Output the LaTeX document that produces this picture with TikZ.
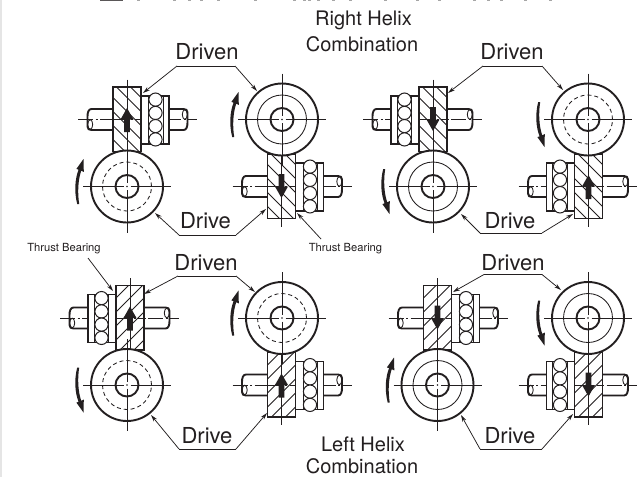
\documentclass[tikz,border=0pt]{standalone}
\usepackage{fontspec}
\setmainfont{TeX Gyre Heros}
\usetikzlibrary{arrows.meta}
\definecolor{ink}{HTML}{231F20}
\tikzset{
  heavy/.style={draw=ink,line width=1.9pt,line join=miter},
  lightline/.style={draw=ink,line width=0.85pt},
  centre/.style={draw=ink,line width=0.75pt},
  chain/.style={draw=ink,line width=0.75pt,dash pattern=on 15pt off 2.5pt on 2pt off 2.5pt},
  leaderline/.style={draw=ink,line width=0.75pt,-{Stealth[length=7pt,width=4pt]}},
  biglabel/.style={inner sep=0pt,text=ink,font=\fontsize{22}{24}\selectfont},
  midlabel/.style={inner sep=0pt,text=ink,font=\fontsize{20}{23}\selectfont},
  smalllabel/.style={inner sep=0pt,text=ink,font=\fontsize{11.2}{13}\selectfont},
}
% shaft end: local origin on the end, s = x direction, t = y direction
\newcommand{\shaftend}[5]{% x end, y centre, xscale, yscale, length
  \begin{scope}[shift={(#1,#2)},xscale=#3,yscale=#4]
    \draw[heavy,line join=round] (#5,-10.5) -- (4,-10.5) .. controls (1,-10.5) and (0,-7) .. (0,-3) -- (0,7) .. controls (0,9.5) and (1.5,10.5) .. (4,10.5) -- (#5,10.5);
    \draw[lightline] (2.7,5) ellipse (2.5pt and 4.8pt);
  \end{scope}}
% gear block: cx, cy, hatch sign, arrow sign, bearing side
\newcommand{\gblock}[5]{%
  \begin{scope}[shift={(#1,#2)}]
    \ifnum#5>0
      \shaftend{-39.5}{0}{1}{1}{26}
      \shaftend{60.5}{0}{-1}{-1}{20}
      \draw[chain] (-49,0) -- (70,0);
    \else
      \shaftend{-60.5}{0}{1}{1}{20}
      \shaftend{39.5}{0}{-1}{-1}{26}
      \draw[chain] (-70,0) -- (49,0);
    \fi
    \begin{scope}[xscale=#5]
      \draw[heavy,fill=white] (14,-23.5) rectangle (42,24.5);
      \draw[lightline] (21.5,-23.5) -- (21.5,24.5) (36,-23.5) -- (36,24.5);
      \foreach \yy in {-19.9,-6.6,6.6,19.9}
        \draw[draw=ink,line width=1pt,fill=white] (28.5,\yy) circle (6.6pt);
    \end{scope}
    \fill[white] (-14,-32.5) rectangle (14,32);
    \begin{scope}
      \clip (-14,-32.5) rectangle (14,32);
      \begin{scope}[yscale=#3]
        \foreach \yy in {-84,-70,...,42}
          \draw[lightline] (-20,\yy) -- (20,\yy+40);
      \end{scope}
    \end{scope}
    \draw[heavy] (-14,-32.5) rectangle (14,32);
    \draw[chain] (-14,0) -- (14,0);
    \draw[centre] (0,-40) -- (0,40);
    \begin{scope}[yscale=#4]
      \fill[ink] (0,-11.5) -- (6.5,0) -- (2.8,0) -- (2.8,12.5) -- (-2.8,12.5) -- (-2.8,0) -- (-6.5,0) -- cycle;
    \end{scope}
  \end{scope}}
% wheel: cx, cy, middle circle style
\newcommand{\wheelg}[3]{%
  \begin{scope}[shift={(#1,#2)}]
    \draw[heavy,fill=white] (0,0) circle (36pt);
    \draw[draw=ink,line width=0.85pt,#3] (0,0) circle (24.5pt);
    \draw[heavy,fill=white] (0,0) circle (11.5pt);
    \draw[centre] (-44,0) -- (-3.5,0) (3.5,0) -- (44,0) (0,-46) -- (0,-3.5) (0,3.5) -- (0,46);
    \fill[ink] (0,0) circle (0.8pt);
  \end{scope}}
% rotation arrow: cx, cy, direction (1 = up, -1 = down)
\newcommand{\rotarr}[3]{%
  \begin{scope}[shift={(#1,#2)},yscale=#3]
    \fill[ink] (-49.8,17.5) .. controls (-53,5) and (-52,-8) .. (-48.4,-16.8)
      -- (-50.6,-17.6) -- (-43.5,-27.5) -- (-43.2,-14.6) -- (-45.8,-15.8)
      .. controls (-49,-6) and (-49.6,6) .. (-47.8,17.5) -- cycle;
  \end{scope}}
% leader: name, tip a, bend a, bend b, tip b
\newcommand{\lead}[5]{%
  \coordinate (#1a) at (#2);
  \coordinate (#1b) at (#3);
  \coordinate (#1c) at (#4);
  \coordinate (#1d) at (#5);
  \draw[leaderline] (#1b) -- (#1a);
  \draw[leaderline] (#1c) -- (#1d);
  \draw[centre] (#1b) -- (#1c);}
\begin{document}
\begin{tikzpicture}[x=1pt,y=-1pt]
\useasboundingbox (0,0) rectangle (637,477);
\fill[white] (0,0) rectangle (637,477);
\fill[black!10] (0,0) rectangle (1.6,477);
% cut-off line at the top edge
\fill[ink!75] (100,0) rectangle (123,1.1);
\foreach \xx in {137,173,188,200,217,254,293,303,308,317,332,349,384,416,438,473,487,500,524,549}
  \fill[black!35] (\xx,0) rectangle (\xx+3,1);
% Right helix, left pair
\gblock{127}{119.5}{1}{1}{1}
\wheelg{127}{186.5}{dash pattern=on 4pt off 3pt}
\rotarr{127}{186.5}{1}
\gblock{281.5}{186.5}{1}{-1}{1}
\wheelg{282}{119.5}{solid}
\rotarr{282}{119.5}{1}
% Right helix, right pair
\gblock{433}{119.5}{1}{-1}{-1}
\wheelg{433}{186.5}{solid}
\rotarr{433}{186.5}{-1}
\gblock{588.5}{186.5}{1}{1}{-1}
\wheelg{588}{119.5}{dash pattern=on 4pt off 3pt}
\rotarr{588}{119.5}{-1}
% Left helix, left pair
\gblock{130}{318}{-1}{1}{-1}
\wheelg{127}{385}{dash pattern=on 4pt off 3pt}
\rotarr{127}{385}{-1}
\gblock{281.5}{385}{-1}{1}{1}
\wheelg{282}{318}{dash pattern=on 4pt off 3pt}
\rotarr{282}{318}{1}
% Left helix, right pair
\gblock{437.5}{318}{-1}{-1}{1}
\wheelg{437.5}{385}{solid}
\rotarr{437.5}{385}{1}
\gblock{588.5}{385}{-1}{-1}{-1}
\wheelg{588}{318}{solid}
\rotarr{588}{318}{-1}
% labels
\node[biglabel] (dn1) at (207,52) {Driven};
\node[biglabel] (dv1) at (205.5,221) {Drive};
\node[biglabel] (dn2) at (512,52) {Driven};
\node[biglabel] (dv2) at (510,221) {Drive};
\node[biglabel] (dn3) at (206,263) {Driven};
\node[biglabel] (dv3) at (207,436) {Drive};
\node[biglabel] (dn4) at (513,263) {Driven};
\node[biglabel] (dv4) at (510,436) {Drive};
\node[midlabel] (rh) at (363.5,20.5) {Right Helix};
\node[midlabel] (rc) at (362,44.5) {Combination};
\node[midlabel] (lh) at (363,444) {Left Helix};
\node[midlabel] (lc) at (362,466.5) {Combination};
\node[smalllabel] (tb1) at (64,249) {Thrust Bearing};
\node[smalllabel] (tb2) at (345.5,249) {Thrust Bearing};
% leaders
\lead{n1}{143,93}{177,66}{235,66}{257,91}
\lead{v1}{155,213}{179,235}{236,235}{266,209}
\lead{n2}{448,93}{483,66}{542,66}{563,90}
\lead{v2}{461,214}{480,233}{542,233}{573,214}
\lead{n3}{144,294}{178,276}{236,276}{255,292}
\lead{v3}{151,415}{179,449}{236,449}{267,413}
\lead{n4}{453,292}{484,274.5}{542,274.5}{561,290}
\lead{v4}{461,415}{480,449}{542,449}{573,414}
\coordinate (t1s) at (88,258);
\coordinate (t1e) at (113,291);
\coordinate (t2s) at (321,239);
\coordinate (t2e) at (297,213);
\draw[leaderline] (t1s) -- (t1e);
\draw[leaderline] (t2s) -- (t2e);
\end{tikzpicture}
\end{document}
